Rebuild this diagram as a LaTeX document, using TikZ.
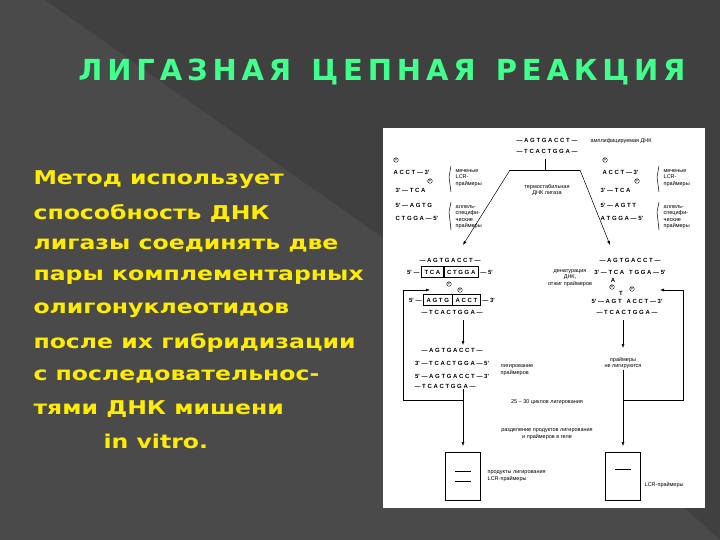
\documentclass[tikz,border=0pt]{standalone}
\usepackage{fontspec}
\setmainfont{DejaVu Sans}
\newfontfamily\figf{Liberation Sans}
\newfontfamily\widef[FakeStretch=1.24]{DejaVu Sans}
\usetikzlibrary{arrows.meta}
\begin{document}
\begin{tikzpicture}[x=1pt,y=-1pt,
  body/.style={anchor=west,text=yellow!95!orange,font=\widef\fontsize{19}{22}\selectfont\bfseries},
  ft/.style={font=\figf\fontsize{5.5}{6.5}\selectfont,inner sep=0.5pt,align=center},
  fl/.style={ft,anchor=west,align=left},
  sq/.style={font=\figf\bfseries\fontsize{6}{7}\selectfont,inner sep=0.5pt},
  pc/.style={circle,draw,inner sep=0.3pt,font=\figf\fontsize{4}{4}\selectfont},
  ar/.style={-{Latex[length=4pt,width=3pt]},line width=0.5pt},
  ln/.style={line width=0.5pt}]
\useasboundingbox (0,0) rectangle (720,540);
\fill[black!75] (0,0) rectangle (720,540);
\fill[black!71] (0,0) -- (45,0) -- (400,250) -- (720,540) -- (0,540) -- cycle;
\node[text=green!60!cyan!75!white,font=\fontsize{29}{32}\selectfont\bfseries] (title) at (382,72) {Л\,И\,Г\,А\,З\,Н\,А\,Я\ \ Ц\,Е\,П\,Н\,А\,Я\ \ Р\,Е\,А\,К\,Ц\,И\,Я};
\node[body] (b1) at (30,180) {Метод использует};
\node[body] (b2) at (30,213) {способность ДНК};
\node[body] (b3) at (30,245) {лигазы соединять две};
\node[body] (b4) at (30,277) {пары комплементарных};
\node[body] (b5) at (30,310) {олигонуклеотидов};
\node[body] (b6) at (30,343) {после их гибридизации};
\node[body] (b7) at (30,376) {с последовательнос-};
\node[body] (b8) at (30,409) {тями ДНК мишени};
\node[body] (b9) at (100,441) {in vitro.};
% figure
\fill[white] (383,128) rectangle (705,508);
\node[sq] (t1) at (547,140) {— A G T G A C C T —};
\node[sq] (t2) at (547,151) {— T C A C T G G A —};
\node[fl] (amp) at (590,141) {амплифицируемая ДНК};
\coordinate (tc) at (545,159); \coordinate (th) at (545,170);
\coordinate (hl) at (510,170); \coordinate (hr) at (580,170);
\draw[ln] (tc) -- (th); \draw[ln] (hl) -- (hr);
\coordinate (al) at (463,245); \coordinate (arr) at (610,245);
\draw[ar] (hl) -- (al); \draw[ar] (hr) -- (arr);
\node[ft] (lig) at (547,190) {термостабильная\\ДНК лигаза};
% left primers
\node[pc] (lp1) at (396,160) {P};
\node[sq,anchor=west] (la1) at (393,172) {A C C T — 3'};
\node[pc] (lp2) at (430,181) {P};
\node[sq,anchor=west] (la2) at (395,190) {3' — T C A};
\node[sq,anchor=west] (la3) at (395,205) {5' — A G T G};
\node[sq,anchor=west] (la4) at (395,218) {C T G G A — 5'};
\node[fl] (lt1) at (455,178) {меченые\\LCR-\\праймеры};
\node[fl] (lt2) at (455,217) {аллель-\\специфи-\\ческие\\праймеры};
\draw[ln] (451,166) -- (449,177) -- (451,192);
\draw[ln] (451,202) -- (449,212) -- (451,230);
% right primers
\node[pc] (rp1) at (605,160) {P};
\node[sq,anchor=west] (ra1) at (602,172) {A C C T — 3'};
\node[pc] (rp2) at (637,181) {P};
\node[sq,anchor=west] (ra2) at (600,190) {3' — T C A};
\node[sq,anchor=west] (ra3) at (600,205) {5' — A G T T};
\node[sq,anchor=west] (ra4) at (600,218) {A T G G A — 5'};
\node[fl] (rt1) at (663,178) {меченые\\LCR-\\праймеры};
\node[fl] (rt2) at (663,217) {аллель-\\специфи-\\ческие\\праймеры};
\draw[ln] (659,166) -- (657,177) -- (659,192);
\draw[ln] (659,202) -- (657,212) -- (659,230);
% stage 2 left
\node[sq] (l21) at (450,260) {— A G T G A C C T —};
\node[sq] (l22) at (450,272) {5' — \fbox{T C A}\fbox{C T G G A} — 5'};
\node[pc] (l2p) at (449,284) {P};
\node[pc] (l3p) at (460,290) {P};
\node[sq] (l31) at (452,300) {5' — \fbox{A G T G}\fbox{A C C T} — 3'};
\node[sq] (l32) at (452,312) {— T C A C T G G A —};
\node[ft] (den) at (570,278) {денатурация\\ДНК,\\отжиг праймеров};
% stage 2 right
\node[sq] (r21) at (630,260) {— A G T G A C C T —};
\node[sq] (r22) at (630,272) {3' — T C A \ \ T G G A — 5'};
\node[sq] (r2a) at (613,280) {A};
\node[pc] (r2p) at (612,287) {P};
\node[pc] (r3p) at (632,289) {P};
\node[sq] (r3t) at (621,293) {T};
\node[sq] (r31) at (627,301) {5' — A G T \ \ A C C T — 3'};
\node[sq] (r32) at (627,312) {— T C A C T G G A —};
% arrows down
\coordinate (ld1) at (463,320); \coordinate (ld2) at (463,345);
\draw[ar] (ld1) -- (ld2);
\coordinate (rd1) at (623,320); \coordinate (rd2) at (623,348);
\draw[ar] (rd1) -- (rd2);
\node[sq] (l41) at (452,350) {— A G T G A C C T —};
\node[sq] (l42) at (452,363) {3' — T C A C T G G A — 5'};
\node[sq] (l43) at (452,376) {5' — A G T G A C C T — 3'};
\node[sq] (l44) at (445,386) {— T C A C T G G A —};
\node[fl] (ligp) at (500,370) {лигирование\\праймеров};
\node[ft] (nolig) at (623,363) {праймеры\\не лигируются};
% loops
\coordinate (lb) at (463,400); \coordinate (lc) at (403,400); \coordinate (lt) at (403,290); \coordinate (le) at (430,290);
\draw[ln] (l44.south -| lb) -- (lb);
\draw[ar] (lb) -- (lc) -- (lt) -- (le);
\coordinate (rb) at (623,400); \coordinate (rc) at (683,400); \coordinate (rt) at (683,290); \coordinate (re) at (660,290);
\draw[ln] (nolig.south) -- (rb);
\draw[ar] (rb) -- (rc) -- (rt) -- (re);
\node[ft] (cyc) at (547,402) {25 – 30 циклов лигирования};
\coordinate (lg) at (463,446); \coordinate (rg) at (623,446);
\draw[ar] (lb) -- (lg); \draw[ar] (rb) -- (rg);
\node[ft] (gel) at (547,434) {разделение продуктов лигирования\\и праймеров в геле};
\node[draw,minimum width=35,minimum height=48,ln] (g1) at (463,476) {};
\node[draw,minimum width=35,minimum height=48,ln] (g2) at (623,476) {};
\draw[ln] ([xshift=-8]g1.center) ++(0,-5) -- ++(16,0);
\draw[ln] ([xshift=-8]g1.center) ++(0,5) -- ++(16,0);
\draw[ln] ([xshift=-8]g2.center) ++(0,-7) -- ++(16,0);
\node[fl] (gt1) at (487,476) {продукты лигирования\\LCR-праймеры};
\node[fl] (gt2) at (644,485) {LCR-праймеры};
\end{tikzpicture}
\end{document}
